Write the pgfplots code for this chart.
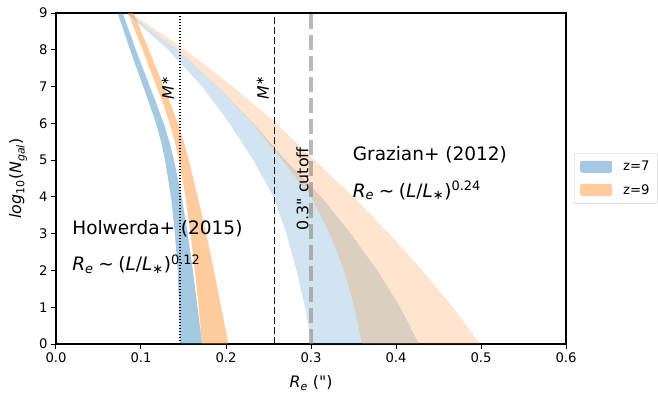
\documentclass[border=0pt]{standalone}
\usepackage{fontspec}
\setmainfont{DejaVu Sans}[Ligatures=TeXOff]
\usepackage{pgfplots}
\pgfplotsset{compat=1.18}
\definecolor{tabblue}{RGB}{31,119,180}
\definecolor{taborange}{RGB}{255,127,14}
\newcommand{\tfont}{\fontsize{13.2}{15}\selectfont}
\newcommand{\lfont}{\fontsize{15.8}{18}\selectfont}
\newcommand{\afont}{\fontsize{18.5}{22}\selectfont}
\newcommand{\qd}{\symbol{34}}
\begin{document}
\begin{tikzpicture}
\begin{axis}[
  scale only axis, width=510pt, height=331pt,
  xmin=0, xmax=0.6, ymin=0, ymax=9,
  xtick={0,0.1,0.2,0.3,0.4,0.5,0.6},
  xticklabels={0.0,0.1,0.2,0.3,0.4,0.5,0.6},
  ytick={0,1,2,3,4,5,6,7,8,9},
  tick align=outside, xtick pos=left, ytick pos=left,
  major tick length=5pt,
  every tick/.style={black, line width=1pt},
  axis line style={line width=1.1pt},
  ticklabel style={font=\tfont},
  /pgf/number format/assume math mode=true,
  xlabel={\textit{R}\textsubscript{\textit{e}} (\qd)},
  ylabel={\textit{log}\textsubscript{10}(\textit{N}\textsubscript{\textit{gal}})},
  xlabel style={font=\lfont, at={(axis description cs:0.5,-0.118)}, anchor=center},
  ylabel style={font=\lfont, at={(axis description cs:-0.0745,0.5)}, anchor=center},
  legend style={at={(1.0157,0.577)}, anchor=north west, draw=black!20, rounded corners=2pt,
    font=\tfont, fill=white, fill opacity=0.8, text opacity=1, inner xsep=6pt, inner ysep=6pt,
    row sep=8pt, /tikz/every odd column/.append style={column sep=9pt}},
  legend cell align=left,
  legend image code/.code={\fill[#1] (0pt,-6pt) rectangle (32pt,6pt);},
]
% Grazian z=7
\addplot[draw=none, fill=tabblue, fill opacity=0.2, forget plot] coordinates {
(0.083,9) (0.132,8) (0.172,7) (0.204,6) (0.232,5) (0.256,4) (0.271,3) (0.283,2) (0.293,1) (0.301,0)
(0.427,0) (0.405,1) (0.378,2) (0.347,3) (0.312,4) (0.270,5) (0.232,6) (0.190,7) (0.143,8) (0.086,9)};
% Grazian z=9
\addplot[draw=none, fill=taborange, fill opacity=0.2, forget plot] coordinates {
(0.086,9) (0.143,8) (0.190,7) (0.231,6) (0.266,5) (0.300,4) (0.322,3) (0.339,2) (0.351,1) (0.360,0)
(0.499,0) (0.467,1) (0.431,2) (0.392,3) (0.350,4) (0.304,5) (0.259,6) (0.208,7) (0.152,8) (0.088,9)};
% Holwerda z=7
\addplot[draw=none, fill=tabblue, fill opacity=0.4, forget plot] coordinates {
(0.0725,9) (0.0871,8) (0.1026,7) (0.1103,6.5) (0.1177,6) (0.1237,5.5) (0.1283,5) (0.1353,4) (0.1400,3) (0.1430,2) (0.1450,1) (0.1460,0)
(0.1720,0) (0.1665,1) (0.1610,2) (0.1550,3) (0.1478,4) (0.1388,5) (0.1334,5.5) (0.1267,6) (0.1187,6.5) (0.1104,7) (0.0939,8) (0.0785,9)};
% Holwerda z=9
\addplot[draw=none, fill=taborange, fill opacity=0.4, forget plot] coordinates {
(0.085,9) (0.1018,8) (0.1183,7) (0.1265,6.5) (0.1338,6) (0.1398,5.5) (0.1448,5) (0.1523,4) (0.1583,3) (0.1633,2) (0.1678,1) (0.1720,0)
(0.2030,0) (0.1943,1) (0.1858,2) (0.1768,3) (0.1668,4) (0.1563,5) (0.1503,5.5) (0.1433,6) (0.1355,6.5) (0.1268,7) (0.1093,8) (0.0910,9)};
% vertical lines
\addplot[black, line width=1.2pt, dash pattern=on 1.2pt off 1.8pt, forget plot] coordinates {(0.146,0) (0.146,9)};
\addplot[black!90, line width=1.8pt, dash pattern=on 7pt off 3pt, forget plot] coordinates {(0.257,0) (0.257,9)};
\addplot[gray, line width=4pt, opacity=0.55, dash pattern=on 15pt off 6pt, forget plot] coordinates {(0.3,0) (0.3,9)};
% labels
\node[rotate=90, font=\lfont, inner sep=0pt] at (axis cs:0.1316,6.97) {\textit{M}\textsuperscript{∗}};
\node[rotate=90, font=\lfont, inner sep=0pt] at (axis cs:0.2433,6.97) {\textit{M}\textsuperscript{∗}};
\node[rotate=90, font=\lfont, inner sep=0pt] at (axis cs:0.290,4.22) {0.3\qd{} cutoff};
\node[anchor=base west, font=\afont, inner sep=0pt] at (axis cs:0.349,4.99) {Grazian+ (2012)};
\node[anchor=base west, font=\afont, inner sep=0pt] at (axis cs:0.349,3.99) {\textit{R}\textsubscript{\textit{e}}\hspace{0.25em}∼\hspace{0.25em}(\textit{L}/\textit{L}\textsubscript{∗})\textsuperscript{0.24}};
\node[anchor=base west, font=\afont, inner sep=0pt] at (axis cs:0.019,2.99) {Holwerda+ (2015)};
\node[anchor=base west, font=\afont, inner sep=0pt] at (axis cs:0.019,1.99) {\textit{R}\textsubscript{\textit{e}}\hspace{0.25em}∼\hspace{0.25em}(\textit{L}/\textit{L}\textsubscript{∗})\textsuperscript{0.12}};
% legend
\addlegendimage{draw=none, fill=tabblue, fill opacity=0.4}
\addlegendentry{z=7}
\addlegendimage{draw=none, fill=taborange, fill opacity=0.4}
\addlegendentry{z=9}
\end{axis}
\pgfresetboundingbox
\path[use as bounding box] (-56pt,-55pt) rectangle (602pt,344pt);
\end{tikzpicture}
\end{document}
